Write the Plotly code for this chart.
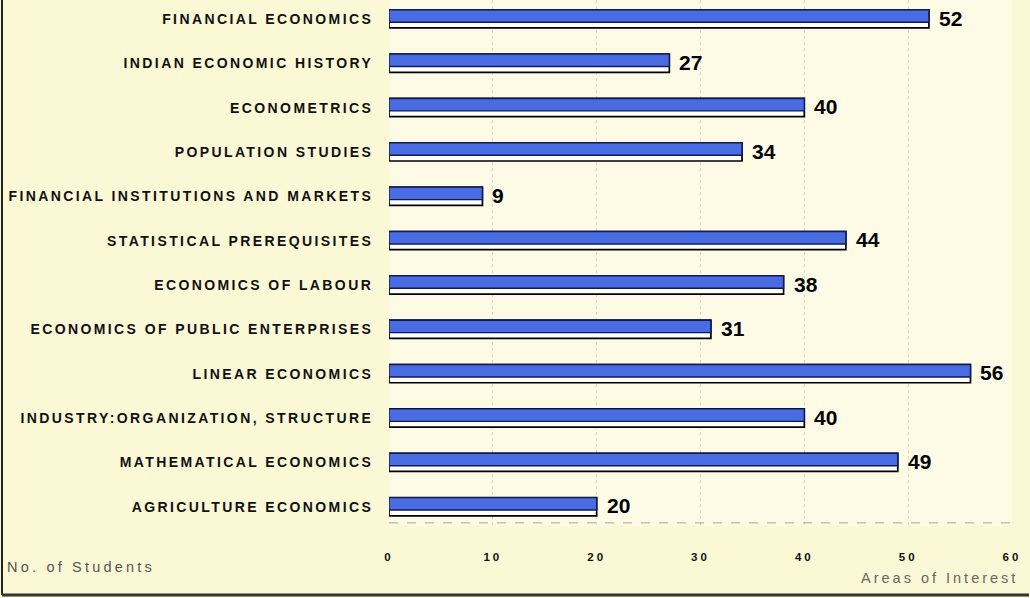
import plotly.graph_objects as go

categories = [
    "FINANCIAL ECONOMICS",
    "INDIAN ECONOMIC HISTORY",
    "ECONOMETRICS",
    "POPULATION STUDIES",
    "FINANCIAL INSTITUTIONS AND MARKETS",
    "STATISTICAL PREREQUISITES",
    "ECONOMICS OF LABOUR",
    "ECONOMICS OF PUBLIC ENTERPRISES",
    "LINEAR ECONOMICS",
    "INDUSTRY:ORGANIZATION, STRUCTURE",
    "MATHEMATICAL ECONOMICS",
    "AGRICULTURE ECONOMICS",
]
students = [52, 27, 40, 34, 9, 44, 38, 31, 56, 40, 49, 20]
tick_vals = [0, 10, 20, 30, 40, 50, 60]
tick_text = ["0", "10", "20", "30", "40", "50", "60"]

W, H = 1030, 598
ML, MR, MT, MB = 389, 18, 0, 72
pw = W - ML - MR
ph = H - MT - MB


def spaced(s, px):
    return '<span style="letter-spacing:%spx">%s</span>' % (px, s)


fig = go.Figure()
# full bar (white base with black outline)
fig.add_trace(go.Bar(
    y=categories, x=students, orientation="h",
    width=0.41, offset=-0.21,
    marker=dict(color="white", line=dict(color="black", width=1.7)),
    hoverinfo="skip",
))
# blue top face
fig.add_trace(go.Bar(
    y=categories, x=students, orientation="h",
    width=0.28, offset=-0.21,
    marker=dict(color="#4a6ce2", line=dict(color="#111a55", width=1.4)),
    hoverinfo="skip",
))

for cat, v in zip(categories, students):
    fig.add_annotation(x=v, y=cat, text="<b>%d</b>" % v, xanchor="left", yanchor="middle",
                       xshift=8, yshift=1, showarrow=False,
                       font=dict(family="Liberation Sans", size=21, color="black"))

fig.update_layout(
    width=W, height=H,
    margin=dict(l=ML, r=MR, t=MT, b=MB),
    barmode="overlay",
    showlegend=False,
    paper_bgcolor="#fbf8d6",
    plot_bgcolor="#fdfbe6",
    font=dict(family="Liberation Sans", color="black"),
)
fig.update_yaxes(
    categoryorder="array", categoryarray=categories,
    tickvals=categories, ticktext=[spaced(c, 2.4) for c in categories],
    range=[11.43, -0.43],
    showgrid=False, zeroline=False, showline=False,
    ticks="outside", ticklen=12, tickcolor="rgba(0,0,0,0)",
    tickfont=dict(family="Liberation Sans", size=14, color="#111", weight="bold"),
)
fig.update_xaxes(
    range=[0, 60], tickvals=tick_vals, ticktext=[spaced(t, 3) for t in tick_text],
    showgrid=True, gridcolor="#dcd9b4", griddash="dot", gridwidth=1,
    zeroline=False, showline=False,
    ticks="outside", ticklen=20, tickcolor="rgba(0,0,0,0)",
    tickfont=dict(family="Liberation Sans", size=11.5, color="#111", weight="bold"),
)

# dashed baseline
fig.add_shape(type="line", xref="paper", yref="paper", x0=0, x1=1, y0=0.006, y1=0.006,
              line=dict(color="#a8a68a", width=1, dash="dash"))
# frame on the left and bottom of the page
fx0 = -(ML - 2) / pw
fy0 = -(MB - 3) / ph
fig.add_shape(type="line", xref="paper", yref="paper", x0=fx0, x1=fx0, y0=fy0, y1=1,
              line=dict(color="#222", width=2))
fig.add_shape(type="line", xref="paper", yref="paper", x0=fx0, x1=1 + (MR - 1) / pw, y0=fy0, y1=fy0,
              line=dict(color="#333", width=3))

fig.add_annotation(text=spaced("No. of Students", 3.2), xref="paper", yref="paper",
                   x=-(ML - 5) / pw, y=-(567 - (H - MB)) / ph, xanchor="left", yanchor="middle",
                   showarrow=False, font=dict(family="Liberation Sans", size=14.5, color="#555"))
fig.add_annotation(text=spaced("Areas of Interest", 3.0), xref="paper", yref="paper",
                   x=1 + (MR - 10) / pw, y=-(578 - (H - MB)) / ph, xanchor="right", yanchor="middle",
                   showarrow=False, font=dict(family="Liberation Sans", size=14.5, color="#666"))

fig.write_html("out.html", config={"displayModeBar": False},
               post_script="document.body.style.margin='0';document.body.style.overflow='hidden';")
